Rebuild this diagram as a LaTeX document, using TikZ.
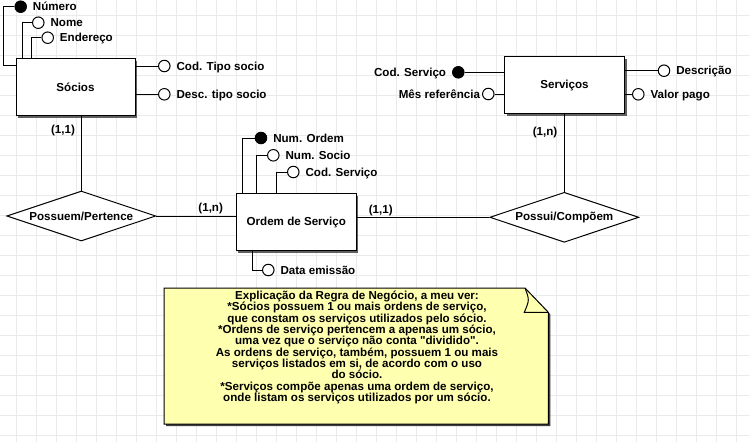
\documentclass[tikz,border=0pt]{standalone}
\usepackage{fontspec}
\setmainfont{Liberation Sans}[Ligatures=TeXOff]
\usetikzlibrary{
    shapes.geometric,
    shadows,
    calc,
    positioning
}
\definecolor{grade}{RGB}{232,234,236}
\definecolor{nota}{RGB}{255,255,176}
\definecolor{sombra}{RGB}{95,95,95}
\tikzset{entidade/.style={rectangle, draw=black, fill=white, minimum width=120pt, minimum height=57pt, drop shadow={shadow xshift=2pt, shadow yshift=-2pt, fill=sombra, opacity=1}}}
\tikzset{relacao/.style={diamond, draw=black, fill=white, aspect=3, minimum width=149pt, minimum height=50pt, inner sep=0pt}}
\tikzset{atrib/.style={circle, draw=black, fill=white, minimum size=11.5pt, inner sep=0pt}}
\tikzset{chave/.style={atrib, fill=black}}
\tikzset{rotulo/.style={inner sep=0pt, text height=8.2pt, text depth=0pt}}

\begin{document}
\begin{tikzpicture}[x=1pt, y=-1pt, line width=1pt, font=\bfseries\fontsize{11.6}{11.35}\selectfont]
                                \useasboundingbox (0,0) rectangle (749,442);
                                \fill[white] (0,0) rectangle (749,442);
                                % grade de fundo
                                \foreach \gx in {16.5,36.5,...,736.5}
                                    \draw[grade, line width=0.8pt] (\gx,0) -- (\gx,442);
                                \foreach \gy in {15,35,...,435}
                                    \draw[grade, line width=0.8pt] (0,\gy) -- (749,\gy);
                                % entidades e relacionamentos
                                \node[entidade, minimum width=119pt] (socios) at (75.5, 87) {Sócios};
                                \node[entidade] (ordem) at (296.3, 222.3) {Ordem de Serviço};
                                \node[entidade] (servicos) at (564.5, 85.3) {Serviços};
                                \node[relacao] (possuem) at (81.3, 216) {Possuem/Pertence};
                                \node[relacao] (possui) at (564.3, 217.3) {Possui/Compõem};
                                % atributos de Sócios
                                \node[chave] (num) at (20.7, 6.7) {};
                                \node[atrib] (nome) at (38.3, 22.7) {};
                                \node[atrib] (ender) at (47.7, 37.7) {};
                                \node[atrib] (codtipo) at (164.3, 66) {};
                                \node[atrib] (desctipo) at (164.3, 94.3) {};
                                \node[rotulo, right=5.5pt of num] {Número};
                                \node[rotulo, right=5.5pt of nome] {Nome};
                                \node[rotulo, right=5.5pt of ender] {Endereço};
                                \node[rotulo, right=5.5pt of codtipo] {Cod. Tipo socio};
                                \node[rotulo, right=5.5pt of desctipo] {Desc. tipo socio};
                                % atributos de Ordem de Serviço
                                \node[chave] (numordem) at (261, 138) {};
                                \node[atrib] (numsocio) at (273.3, 155.3) {};
                                \node[atrib] (codserv) at (293.3, 172) {};
                                \node[atrib] (dataem) at (268.3, 270) {};
                                \node[rotulo, right=5.5pt of numordem] {Num. Ordem};
                                \node[rotulo, right=5.5pt of numsocio] {Num. Socio};
                                \node[rotulo, right=5.5pt of codserv] {Cod. Serviço};
                                \node[rotulo, right=5.5pt of dataem] {Data emissão};
                                % atributos de Serviços
                                \node[chave] (codservico) at (458.3, 72.3) {};
                                \node[atrib] (mesref) at (488.3, 94) {};
                                \node[atrib] (descr) at (664, 70.7) {};
                                \node[atrib] (valor) at (638.3, 94.3) {};
                                \node[rotulo, left=5.5pt of codservico] {Cod. Serviço};
                                \node[rotulo, left=1.5pt of mesref] {Mês referência};
                                \node[rotulo, right=5.5pt of descr] {Descrição};
                                \node[rotulo, right=5.5pt of valor] {Valor pago};
                                % cardinalidades
                                \node[rotulo] (c1) at (63, 129) {(1,1)};
                                \node[rotulo] (c2) at (210.7, 207.7) {(1,n)};
                                \node[rotulo] (c3) at (380.7, 209) {(1,1)};
                                \node[rotulo] (c4) at (545, 131) {(1,n)};
                                % ligacoes
                                \draw (num.west) -- ++(-10.5,0) |- ([yshift=-7pt]socios.north west);
                                \draw (nome.west) -| ([xshift=6.7pt]socios.north west);
                                \draw (ender.west) -| ([xshift=15.7pt]socios.north west);
                                \draw (codtipo.west) -- (codtipo.west -| socios.east);
                                \draw (desctipo.west) -- (desctipo.west -| socios.east);
                                \draw (possuem.north) -- (possuem.north |- socios.south);
                                \draw (possuem.east) -- (possuem.east -| ordem.west);
                                \draw (numordem.west) -| ([xshift=7pt]ordem.north west);
                                \draw (numsocio.west) -| ([xshift=21pt]ordem.north west);
                                \draw (codserv.west) -| ([xshift=41pt]ordem.north west);
                                \draw ([xshift=17pt]ordem.south west) |- (dataem.west);
                                \draw (possui.west) -- (possui.west -| ordem.east);
                                \draw (possui.north) -- (possui.north |- servicos.south);
                                \draw (codservico.east) -- (codservico.east -| servicos.west);
                                \draw (mesref.east) -- (mesref.east -| servicos.west);
                                \draw (descr.west) -- (descr.west -| servicos.east);
                                \draw (valor.west) -- (valor.west -| servicos.east);
                                % nota
                                \fill[black!75, shift={(2,2)}] (164,288) -- (525,288) -- (548.3,312.3) -- (548.3,424) -- (164,424) -- cycle;
                                \draw[fill=nota] (164,288) -- (525,288) -- (548.3,312.3) -- (548.3,424) -- (164,424) -- cycle;
                                \draw (525,288) .. controls (529.5,300) .. (524.3,312.3) -- (548.3,312.3);
                                \node[align=center, inner sep=0pt] (regra) at (357, 347.5) {Explicação da Regra de Negócio, a meu ver:\\
                                    *Sócios possuem 1 ou mais ordens de serviço,\\
                                    que constam os serviços utilizados pelo sócio.\\
                                    *Ordens de serviço pertencem a apenas um sócio,\\
                                    uma vez que o serviço não conta "dividido".\\
                                    As ordens de serviço, também, possuem 1 ou mais\\
                                    serviços listados em si, de acordo com o uso\\
                                    do sócio.\\
                                    *Serviços compõe apenas uma ordem de serviço,\\
                                    onde listam os serviços utilizados por um sócio.};
                            \end{tikzpicture}
\end{document}
